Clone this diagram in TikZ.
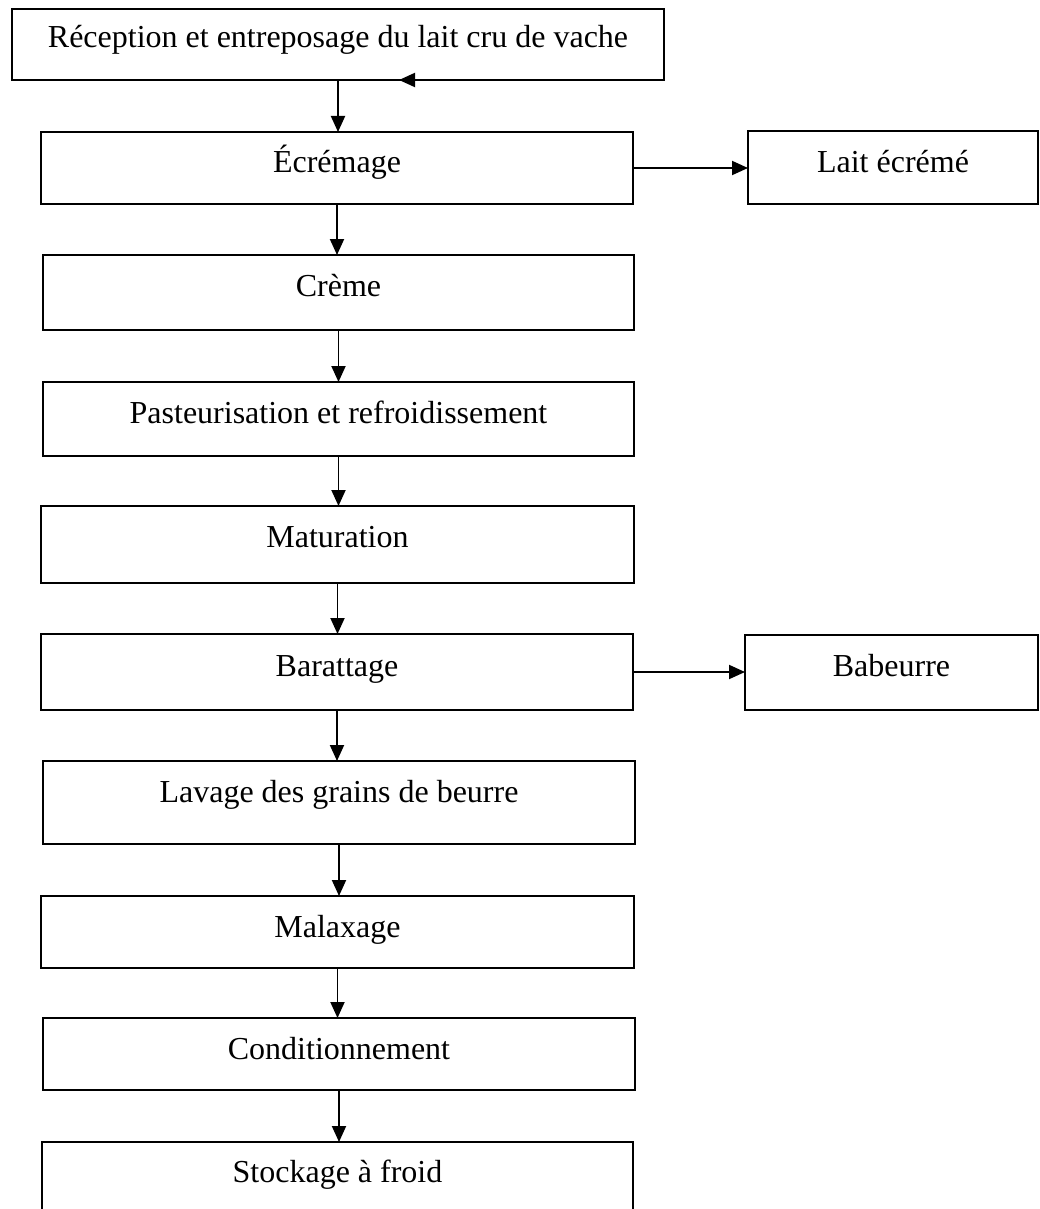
\documentclass[tikz,border=0pt]{standalone}
\usepackage{fontspec}
\setmainfont{Liberation Serif}
\usetikzlibrary{arrows.meta}
\tikzset{
  stepbox/.style={draw, line width=2.1pt, inner sep=0pt, outer sep=0pt, anchor=north west},
  lbl/.style={anchor=base, inner sep=0pt, font=\fontsize{32}{38}\selectfont},
  arr/.style={line width=1.9pt, -{Triangle[length=16pt,width=14pt]}}
}
\begin{document}
\begin{tikzpicture}[x=1pt,y=-1pt]
\useasboundingbox (0,0) rectangle (1039,1209);
\clip (0,0) rectangle (1039,1209);
% boxes
\node[stepbox, minimum width=652pt, minimum height=71pt] (rec) at (12,9) {};
\node[stepbox, minimum width=592pt, minimum height=72pt] (ecr) at (41,132) {};
\node[stepbox, minimum width=290pt, minimum height=73pt] (lait) at (748,131) {};
\node[stepbox, minimum width=591pt, minimum height=75pt] (creme) at (43,255) {};
\node[stepbox, minimum width=591pt, minimum height=74pt] (past) at (43,382) {};
\node[stepbox, minimum width=593pt, minimum height=77pt] (mat) at (41,506) {};
\node[stepbox, minimum width=592pt, minimum height=76pt] (bar) at (41,634) {};
\node[stepbox, minimum width=293pt, minimum height=75pt] (bab) at (745,635) {};
\node[stepbox, minimum width=592pt, minimum height=83pt] (lav) at (43,761) {};
\node[stepbox, minimum width=593pt, minimum height=72pt] (mal) at (41,896) {};
\node[stepbox, minimum width=592pt, minimum height=72pt] (cond) at (43,1018) {};
\node[stepbox, minimum width=591pt, minimum height=110pt] (stock) at (42,1142) {};
% labels
\node[lbl] (recT) at ([yshift=-39pt]rec.north) {Réception et entreposage du lait cru de vache};
\node[lbl] (ecrT) at ([yshift=-40pt]ecr.north) {Écrémage};
\node[lbl] (laitT) at ([yshift=-41pt]lait.north) {Lait écrémé};
\node[lbl] (cremeT) at ([yshift=-41pt]creme.north) {Crème};
\node[lbl] (pastT) at ([yshift=-41pt]past.north) {Pasteurisation et refroidissement};
\node[lbl] (matT) at ([yshift=-41pt]mat.north) {Maturation};
\node[lbl] (barT) at ([yshift=-42pt]bar.north) {Barattage};
\node[lbl] (babT) at ([yshift=-41pt]bab.north) {Babeurre};
\node[lbl] (lavT) at ([yshift=-41pt]lav.north) {Lavage des grains de beurre};
\node[lbl] (malT) at ([yshift=-41pt]mal.north) {Malaxage};
\node[lbl] (condT) at ([yshift=-41pt]cond.north) {Conditionnement};
\node[lbl] (stockT) at ([yshift=-40pt]stock.north) {Stockage à froid};
% connectors
\draw[arr] (rec.south) -- (rec.south |- ecr.north);
\draw[arr] (ecr.south) -- (ecr.south |- creme.north);
\draw[arr] (creme.south) -- (creme.south |- past.north);
\draw[arr] (past.south) -- (past.south |- mat.north);
\draw[arr] (mat.south) -- (mat.south |- bar.north);
\draw[arr] (bar.south) -- (bar.south |- lav.north);
\draw[arr] (lav.south) -- (lav.south |- mal.north);
\draw[arr] (mal.south) -- (mal.south |- cond.north);
\draw[arr] (cond.south) -- (cond.south |- stock.north);
\draw[arr] (ecr.east) -- (ecr.east -| lait.west);
\draw[arr] (bar.east) -- (bar.east -| bab.west);
\coordinate (fb) at (399,80);
\draw[arr] (rec.south east) -- (fb);
\end{tikzpicture}
\end{document}
